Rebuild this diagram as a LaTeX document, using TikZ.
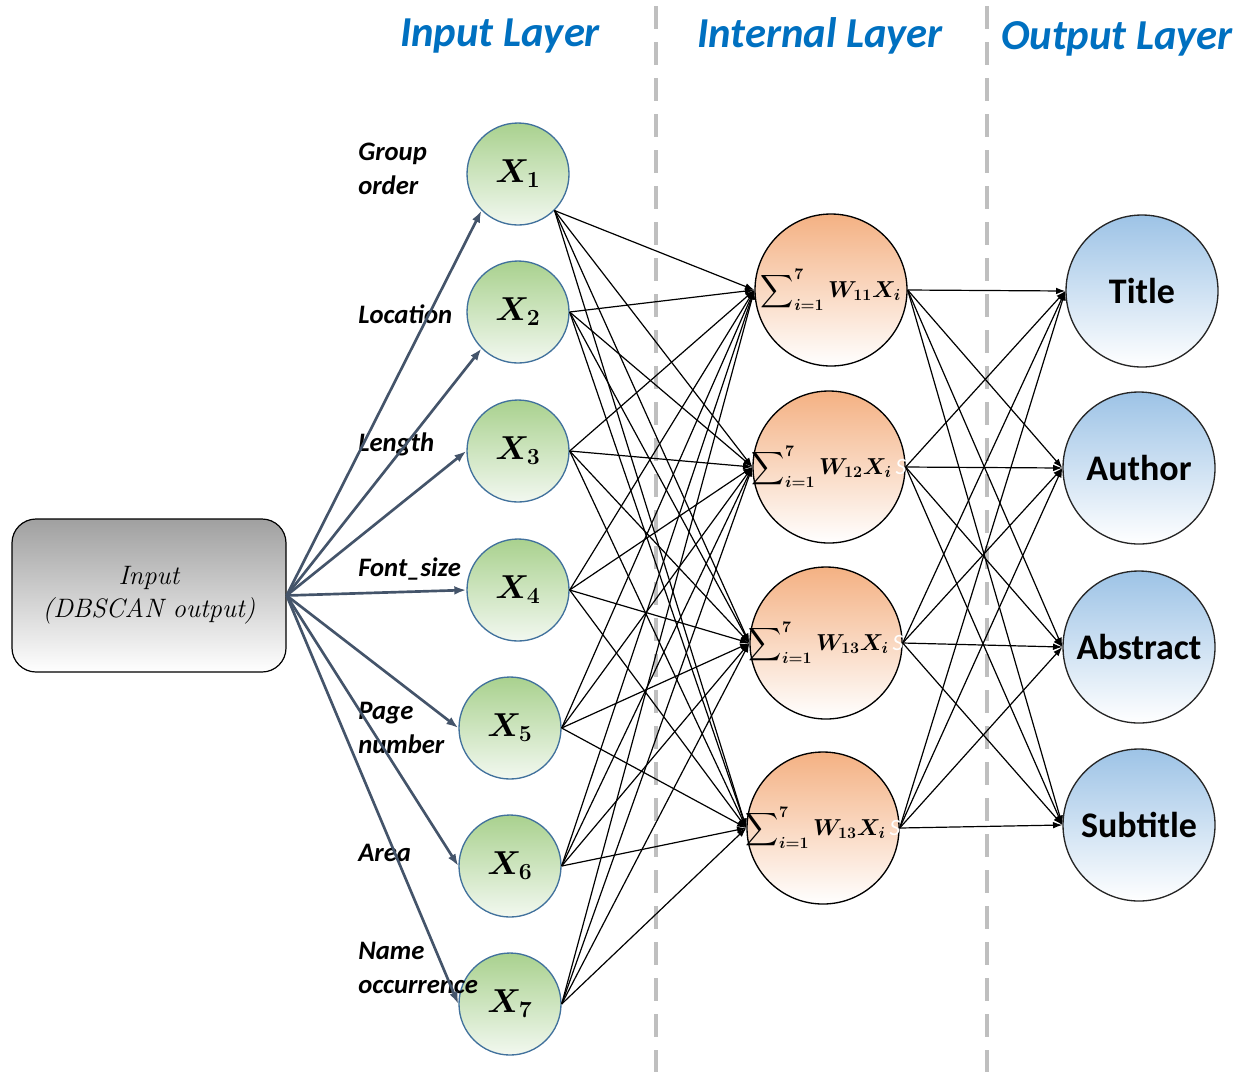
\documentclass[tikz,border=0pt]{standalone}
\usepackage{fontspec}
\usepackage{xcolor}
\usepackage{exscale}
\usepackage{bm}
\usetikzlibrary{arrows.meta}
\newfontfamily\calibfont{Carlito}

\definecolor{layerblue}{RGB}{0,112,192}
\definecolor{feedgray}{RGB}{68,84,106}
\definecolor{dashgray}{RGB}{191,191,191}
\definecolor{boxgray}{RGB}{160,160,160}
\definecolor{ingreen}{RGB}{169,209,142}
\definecolor{inpale}{RGB}{242,248,240}
\definecolor{inrim}{RGB}{65,113,156}
\definecolor{hidorange}{RGB}{244,177,131}
\definecolor{outblue}{RGB}{157,195,230}
\definecolor{outrim}{RGB}{38,38,38}

\begin{document}
\begin{tikzpicture}[x=0.75pt,y=0.75pt,yscale=-1,xscale=1,
  inbox/.style={rectangle,rounded corners=18pt,minimum width=205.5pt,minimum height=114.75pt,draw=black,line width=0.9pt,top color=boxgray,bottom color=white,align=center,font=\itshape\fontsize{20}{25}\selectfont},
  neuron/.style={circle,minimum size=76.5pt,inner sep=0pt,draw=inrim,line width=1pt,top color=ingreen,bottom color=inpale,font=\fontsize{24}{28}\selectfont},
  sumnode/.style={circle,minimum size=114pt,inner sep=0pt,draw=black,line width=1pt,top color=hidorange,bottom color=white,font=\fontsize{17.5}{22}\selectfont},
  classnode/.style={circle,minimum size=114pt,inner sep=0pt,draw=outrim,line width=1pt,top color=outblue,bottom color=white,font=\calibfont\bfseries\fontsize{27}{31}\selectfont},
  featlbl/.style={anchor=west,inner sep=0.75pt,align=left,font=\calibfont\bfseries\itshape\fontsize{20}{25.5}\selectfont},
  layerlbl/.style={inner sep=0.75pt,text=layerblue,font=\calibfont\bfseries\itshape\fontsize{32}{36}\selectfont},
  feed/.style={draw=feedgray,line width=2pt,-{Latex[length=9pt,width=6.5pt]}},
  wire/.style={draw=black,line width=0.9pt,-{Latex[length=7pt,width=5pt]}},
  divider/.style={draw=dashgray,line width=3.2pt,dash pattern=on 17pt off 10pt}
]
\useasboundingbox (0,0) rectangle (1248,1072);

%Dashed dividers
\draw[divider] (656,6) -- (656,1072);
\draw[divider] (987,6) -- (987,1072);

% Layer titles
\node[layerlbl] (lin) at (500,36) {Input Layer};
\node[layerlbl] (lint) at (820,36) {Internal Layer};
\node[layerlbl] (lout) at (1117,39) {Output Layer};

%Shape: Rounded Rectangle
\node[inbox] (inp) at (149,595.5) {Input\\(DBSCAN output)};

%Shape: Circles (input layer)
\node[neuron] (xa) at (518,174) {$\bm{X_1}$};
\node[neuron] (xb) at (518,312) {$\bm{X_2}$};
\node[neuron] (xc) at (518,451) {$\bm{X_3}$};
\node[neuron] (xd) at (518,590) {$\bm{X_4}$};
\node[neuron] (xe) at (510,728) {$\bm{X_5}$};
\node[neuron] (xf) at (510,866) {$\bm{X_6}$};
\node[neuron] (xg) at (510,1004) {$\bm{X_7}$};

%Shape: Circles (internal layer)
\node[sumnode] (ha) at (831,290) {\makebox[0pt]{$\displaystyle\sum\nolimits_{\bm{i=1}}^{\bm{7}}\bm{W_{11}X_i}$}};
\node[sumnode] (hb) at (829,467) {\makebox[0pt]{$\displaystyle\sum\nolimits_{\bm{i=1}}^{\bm{7}}\bm{W_{12}X_i}$\,{\calibfont\itshape\textcolor{white}{S}}}};
\node[sumnode] (hc) at (826,643) {\makebox[0pt]{$\displaystyle\sum\nolimits_{\bm{i=1}}^{\bm{7}}\bm{W_{13}X_i}$\,{\calibfont\itshape\textcolor{white}{S}}}};
\node[sumnode] (hd) at (823,828) {\makebox[0pt]{$\displaystyle\sum\nolimits_{\bm{i=1}}^{\bm{7}}\bm{W_{13}X_i}$\,{\calibfont\itshape\textcolor{white}{S}}}};

%Shape: Circles (output layer)
\node[classnode] (oa) at (1142,291) {Title};
\node[classnode] (ob) at (1139,468) {Author};
\node[classnode] (oc) at (1139,647) {Abstract};
\node[classnode] (od) at (1139,825) {Subtitle};

% Text Node
\node[featlbl] (lgroup) at (357,169) {Group\\order};
% Text Node
\node[featlbl] (lloc) at (357,314) {Location};
% Text Node
\node[featlbl] (llen) at (357,444) {Length};
% Text Node
\node[featlbl] (lfont) at (357,569) {Font\_size};
% Text Node
\node[featlbl] (lpage) at (357,728) {Page\\number};
% Text Node
\node[featlbl] (larea) at (357,853) {Area};
% Text Node
\node[featlbl] (lname) at (357,968) {Name\\occurrence};

%Arrows from input box
\draw[feed] (inp.east) -- (xa.south west);
\draw[feed] (inp.east) -- (xb.south west);
\draw[feed] (inp.east) -- (xc.west);
\draw[feed] (inp.east) -- (xd.west);
\draw[feed] (inp.east) -- (xe.west);
\draw[feed] (inp.east) -- (xf.west);
\draw[feed] (inp.east) -- (xg.west);

%Straight Lines: input -> internal
\draw[wire] (xa.south east) -- (ha.west);
\draw[wire] (xa.south east) -- (hb.west);
\draw[wire] (xa.south east) -- (hc.west);
\draw[wire] (xa.south east) -- (hd.west);
\draw[wire] (xb.east) -- (ha.west);
\draw[wire] (xb.east) -- (hb.west);
\draw[wire] (xb.east) -- (hc.west);
\draw[wire] (xb.east) -- (hd.west);
\draw[wire] (xc.east) -- (ha.west);
\draw[wire] (xc.east) -- (hb.west);
\draw[wire] (xc.east) -- (hc.west);
\draw[wire] (xc.east) -- (hd.west);
\draw[wire] (xd.east) -- (ha.west);
\draw[wire] (xd.east) -- (hb.west);
\draw[wire] (xd.east) -- (hc.west);
\draw[wire] (xd.east) -- (hd.west);
\draw[wire] (xe.east) -- (ha.west);
\draw[wire] (xe.east) -- (hb.west);
\draw[wire] (xe.east) -- (hc.west);
\draw[wire] (xe.east) -- (hd.west);
\draw[wire] (xf.east) -- (ha.west);
\draw[wire] (xf.east) -- (hb.west);
\draw[wire] (xf.east) -- (hc.west);
\draw[wire] (xf.east) -- (hd.west);
\draw[wire] (xg.east) -- (ha.west);
\draw[wire] (xg.east) -- (hb.west);
\draw[wire] (xg.east) -- (hc.west);
\draw[wire] (xg.east) -- (hd.west);

%Straight Lines: internal -> output
\draw[wire] (ha.east) -- (oa.west);
\draw[wire] (ha.east) -- (ob.west);
\draw[wire] (ha.east) -- (oc.west);
\draw[wire] (ha.east) -- (od.west);
\draw[wire] (hb.east) -- (oa.west);
\draw[wire] (hb.east) -- (ob.west);
\draw[wire] (hb.east) -- (oc.west);
\draw[wire] (hb.east) -- (od.west);
\draw[wire] (hc.east) -- (oa.west);
\draw[wire] (hc.east) -- (ob.west);
\draw[wire] (hc.east) -- (oc.west);
\draw[wire] (hc.east) -- (od.west);
\draw[wire] (hd.east) -- (oa.west);
\draw[wire] (hd.east) -- (ob.west);
\draw[wire] (hd.east) -- (oc.west);
\draw[wire] (hd.east) -- (od.west);

\end{tikzpicture}
\end{document}
